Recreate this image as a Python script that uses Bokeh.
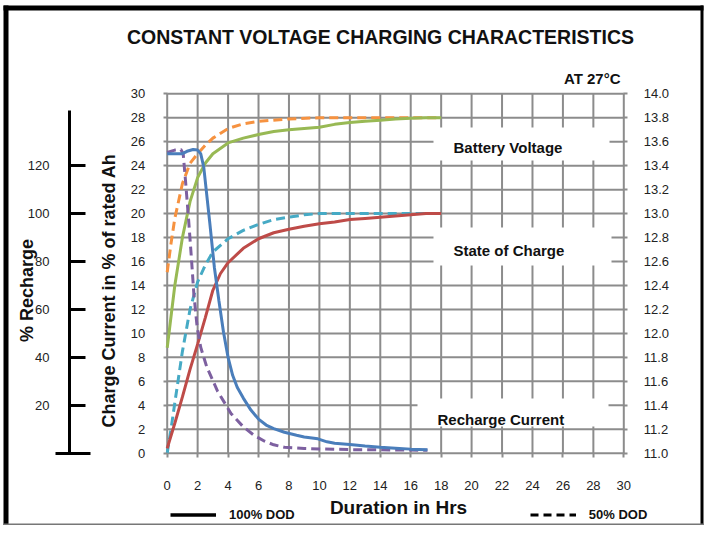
import math
from bokeh.plotting import figure
from bokeh.models import (Range1d, LinearAxis, FixedTicker, Label, BoxAnnotation,
                          Legend, LegendItem, PrintfTickFormatter)
from bokeh.embed import file_html
from bokeh.resources import INLINE

# ---------------- data ----------------
X_TICKS = [0, 2, 4, 6, 8, 10, 12, 14, 16, 18, 20, 22, 24, 26, 28, 30]
Y_TICKS = [0, 2, 4, 6, 8, 10, 12, 14, 16, 18, 20, 22, 24, 26, 28, 30]
VOLT_TICKS = [11.0, 11.2, 11.4, 11.6, 11.8, 12.0, 12.2, 12.4, 12.6, 12.8,
              13.0, 13.2, 13.4, 13.6, 13.8, 14.0]
RECHARGE_TICKS = [20, 40, 60, 80, 100, 120]
RECHARGE_BASE = [0]

# Recharge current, 100% DOD (solid blue)
cur100_h = [0, 1.0, 1.3, 1.7, 2.0, 2.2, 2.4, 2.8, 3.1, 3.4, 3.7, 4.0, 4.3, 4.6, 5.0,
            5.5, 6.0, 6.5, 7.0, 7.7, 8.5, 9.0, 9.9, 10.5, 11.0, 12.0, 13.0, 14.0,
            15.0, 16.0, 17.1]
cur100_v = [25.0, 25.0, 25.2, 25.35, 25.3, 25.0, 23.9, 19.2, 15.5, 12.7, 10.1, 8.0,
            6.5, 5.5, 4.6, 3.6, 2.85, 2.35, 2.05, 1.75, 1.5, 1.35, 1.2, 0.95, 0.83,
            0.72, 0.6, 0.5, 0.42, 0.34, 0.28]

# Recharge current, 50% DOD (dashed purple)
cur50_h = [0, 0.5, 0.9, 1.05, 1.2, 1.4, 1.55, 1.65, 1.75, 1.97, 2.2, 2.6, 3.3, 4.2,
           5.0, 5.7, 6.4, 7.0, 7.7, 9.0, 10.0, 12.0, 14.0, 17.1]
cur50_v = [25.1, 25.3, 25.35, 25.0, 22.8, 19.6, 17.0, 15.2, 13.3, 10.5, 8.85, 7.2,
           5.2, 3.3, 2.2, 1.5, 1.0, 0.7, 0.5, 0.4, 0.36, 0.3, 0.28, 0.25]

# State of charge, 100% DOD (solid red)
soc100_h = [0, 0.5, 1, 1.5, 2, 2.5, 3, 3.5, 4, 5, 6, 7, 8, 9, 10, 11, 12, 13, 14,
            15, 16, 17, 18]
soc100_v = [0.4, 2.5, 4.7, 7.0, 9.1, 11.3, 13.6, 15.0, 15.9, 17.1, 17.9, 18.4, 18.7,
            18.95, 19.15, 19.3, 19.5, 19.6, 19.7, 19.8, 19.9, 20.0, 20.0]

# State of charge, 50% DOD (dashed aqua)
soc50_h = [0, 0.25, 0.5, 1, 1.5, 2, 2.5, 3, 4, 5, 6, 7, 8, 9, 10, 12, 14, 16, 18]
soc50_v = [0, 2.0, 4.2, 8.5, 12.0, 14.3, 15.7, 16.8, 17.9, 18.6, 19.1, 19.5, 19.7,
           19.9, 20.0, 20.0, 20.0, 20.0, 20.0]

# Battery voltage, 100% DOD (solid green), volts on the right axis
volt100_h = [0, 0.5, 1.0, 1.5, 2, 2.5, 3, 4, 5, 6, 7, 8, 9, 10, 11, 12, 13, 14, 15,
             16, 17, 18]
volt100_v = [11.88, 12.40, 12.80, 13.10, 13.30, 13.42, 13.50, 13.59, 13.63, 13.66,
             13.685, 13.70, 13.71, 13.72, 13.745, 13.76, 13.77, 13.78, 13.79, 13.795,
             13.80, 13.80]

# Battery voltage, 50% DOD (dashed orange)
volt50_h = [0, 0.25, 0.5, 1, 1.5, 2, 2.5, 3, 4, 5, 6, 8, 10, 12, 14, 16, 18]
volt50_v = [12.51, 12.75, 12.96, 13.25, 13.42, 13.50, 13.57, 13.63, 13.71, 13.75,
            13.77, 13.79, 13.80, 13.80, 13.80, 13.80, 13.80]

# ---------------- layout (pixels) ----------------
W, H = 705, 525
FL, FR, FT, FB = 166.7, 623.3, 93.3, 452.7     # plot-grid box in canvas pixels
X0, X1 = X_TICKS[0], X_TICKS[-1]
Y0, Y1 = Y_TICKS[0], Y_TICKS[-1]
SX = (FR - FL) / (X1 - X0)
SY = (FB - FT) / (Y1 - Y0)


def dx(px):
    return X0 + (px - FL) / SX


def dy(py):
    return Y0 + (FB - py) / SY


V0, V1 = VOLT_TICKS[0], VOLT_TICKS[-1]
VK = (V1 - V0) / (Y1 - Y0)
RK = 5.0   # % recharge per unit of the current axis

GRID = "#8c8c8c"
FONT = "Liberation Sans"
C_BLUE, C_RED, C_GREEN = "#4A7EBB", "#BE4B48", "#98B954"
C_PURPLE, C_AQUA, C_ORANGE = "#7D60A0", "#46AAC5", "#F69240"
DASH = "9 5"
NAN = float("nan")

p = figure(width=W, height=H, x_range=Range1d(dx(0), dx(W)),
           y_range=Range1d(dy(H), dy(0)), output_backend="svg",
           toolbar_location=None, title=None, x_axis_type=None, y_axis_type=None,
           min_border=0, min_border_left=0, min_border_right=0, min_border_top=0,
           min_border_bottom=0)
p.extra_y_ranges = {
    "volt": Range1d(V0 + VK * (dy(H) - Y0), V0 + VK * (dy(0) - Y0)),
    "recharge": Range1d(RK * dy(H), RK * dy(0)),
}
p.outline_line_color = None
p.background_fill_color = "white"
p.border_fill_color = "white"

# grid lines (only over the 0..30 box)
p.segment(x0=X_TICKS, y0=[Y0] * len(X_TICKS), x1=X_TICKS, y1=[Y1] * len(X_TICKS),
          line_color=GRID, line_width=2)
p.segment(x0=[X0] * len(Y_TICKS), y0=Y_TICKS, x1=[X1] * len(Y_TICKS), y1=Y_TICKS,
          line_color=GRID, line_width=2)


def style_axis(ax, standoff):
    ax.axis_line_color = None
    ax.major_tick_line_color = GRID
    ax.major_tick_line_width = 2
    ax.major_tick_out = 4
    ax.major_tick_in = 0
    ax.minor_tick_line_color = None
    ax.major_label_text_font = FONT
    ax.major_label_text_font_size = "13px"
    ax.major_label_text_color = "#222222"
    ax.major_label_standoff = standoff


xax = LinearAxis(ticker=FixedTicker(ticks=X_TICKS), fixed_location=Y0, bounds=(X0, X1))
style_axis(xax, 24)
p.add_layout(xax, "below")

yax = LinearAxis(ticker=FixedTicker(ticks=Y_TICKS), fixed_location=X0, bounds=(Y0, Y1))
style_axis(yax, 18)
p.add_layout(yax, "left")

vax = LinearAxis(y_range_name="volt", ticker=FixedTicker(ticks=VOLT_TICKS),
                 formatter=PrintfTickFormatter(format="%.1f"), fixed_location=X1,
                 bounds=(V0, V1))
style_axis(vax, 16)
p.add_layout(vax, "right")

rec = LinearAxis(y_range_name="recharge",
                 ticker=FixedTicker(ticks=RECHARGE_TICKS, minor_ticks=RECHARGE_BASE),
                 fixed_location=dx(69), bounds=(0, RK * dy(110)))
rec.axis_line_color = "black"
rec.axis_line_width = 3
rec.major_tick_line_color = "black"
rec.major_tick_line_width = 3
rec.major_tick_in = 16
rec.major_tick_out = 0
rec.minor_tick_line_color = "black"
rec.minor_tick_line_width = 3
rec.minor_tick_in = 21
rec.minor_tick_out = 14
rec.major_label_text_font = FONT
rec.major_label_text_font_size = "13px"
rec.major_label_text_color = "#222222"
rec.major_label_standoff = 6
p.add_layout(rec, "left")

# white boxes behind the curve names
for l, r, t, b in ((433, 609, 127, 160), (433, 611, 227, 265), (417, 608, 398, 426)):
    p.add_layout(BoxAnnotation(left=dx(l), right=dx(r), top=dy(t), bottom=dy(b),
                               fill_color="white", fill_alpha=1, line_color=None))

# series
p.line(volt50_h, volt50_v, y_range_name="volt", line_color=C_ORANGE, line_width=3,
       line_dash=DASH)
p.line(volt100_h, volt100_v, y_range_name="volt", line_color=C_GREEN, line_width=3)
p.line(soc50_h, soc50_v, line_color=C_AQUA, line_width=3, line_dash=DASH)
p.line(soc100_h, soc100_v, line_color=C_RED, line_width=3)
p.line(cur50_h, cur50_v, line_color=C_PURPLE, line_width=3, line_dash=DASH)
p.line(cur100_h, cur100_v, line_color=C_BLUE, line_width=3)

# legend for the two line styles (renderers with a single empty point)
r_solid = p.line(x=[NAN], y=[NAN], line_color="black", line_width=3.5)
r_dash = p.line(x=[NAN], y=[NAN], line_color="black", line_width=3, line_dash="8 5")
legend = Legend(items=[LegendItem(label="100% DOD", renderers=[r_solid]),
                       LegendItem(label="50% DOD", renderers=[r_dash])],
                orientation="horizontal", location=(170, H - 522), glyph_width=46,
                glyph_height=15, label_height=15, label_standoff=13, spacing=235,
                padding=0, margin=0, border_line_color=None,
                background_fill_alpha=0, label_text_font=FONT,
                label_text_font_style="bold", label_text_font_size="13px",
                label_text_color="#111111")
p.add_layout(legend)


def label(px, py, text, size, align="left", angle=0, font=FONT):
    p.add_layout(Label(x=dx(px), y=dy(py), text=text, text_font=font,
                       text_font_style="bold", text_font_size=size, text_align=align,
                       text_baseline="middle", angle=angle, text_color="#111111"))


label(380, 36, "CONSTANT VOLTAGE CHARGING CHARACTERISTICS", "19.5px", "center")
label(620, 78, "AT 27°C", "15px", "right")
label(453, 147, "Battery Voltage", "15px")
label(453, 250, "State of Charge", "15px")
label(437, 419, "Recharge Current", "15px")
label(108, 290, "Charge Current in % of rated Ah", "18px", "center", math.pi / 2)
label(26.5, 290, "% Recharge", "18px", "center", math.pi / 2)
label(398, 507, "Duration in Hrs", "19px", "center")

# page frame
for l, r, t, b, c in ((3, 8, 5, H, "black"), (3, W - 2, 5, 10, "black"),
                      (W - 5, W - 2, 5, H, "black"), (3, W - 2, H - 2, H, "#777777")):
    p.add_layout(BoxAnnotation(left=dx(l), right=dx(r), top=dy(t), bottom=dy(b),
                               fill_color=c, fill_alpha=1, line_color=None,
                               level="overlay"))

open("out.html", "w").write(file_html(p, INLINE))
